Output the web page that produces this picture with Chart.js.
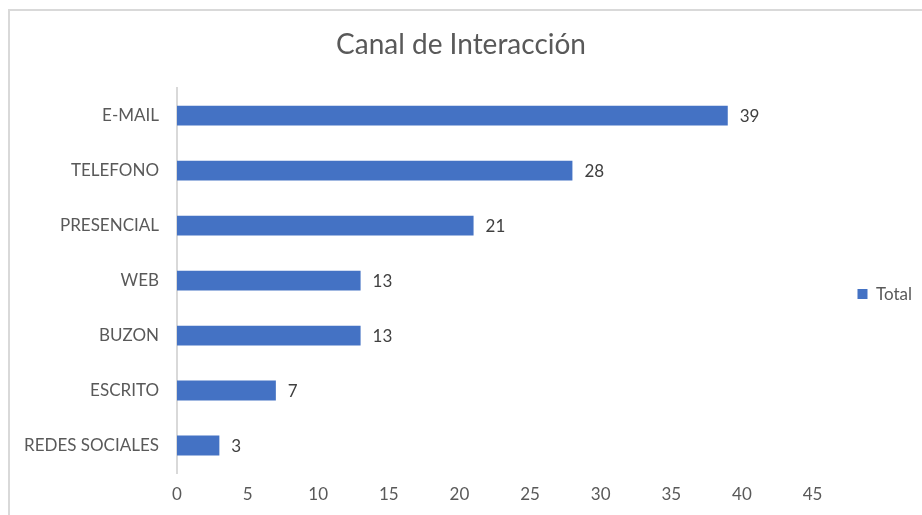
<!DOCTYPE html>
<html>
<head>
<meta charset="utf-8">
<script src="https://cdn.jsdelivr.net/npm/chart.js@4/dist/chart.umd.min.js"></script>
<style>
  html, body { margin: 0; padding: 0; background: #fff; }
  #frame { position: absolute; left: 8px; top: 9px; width: 930px; height: 520px; border: 2px solid #d9d9d9; box-sizing: border-box; }
  #wrap { position: absolute; left: 0; top: 0; width: 922px; height: 515px; }
</style>
</head>
<body>
<div id="frame"></div>
<div id="wrap"><canvas id="c" width="922" height="515"></canvas></div>
<script>
const categories = ["E-MAIL", "TELEFONO", "PRESENCIAL", "WEB", "BUZON", "ESCRITO", "REDES SOCIALES"];
const totalValues = [39, 28, 21, 13, 13, 7, 3];
const seriesName = "Total";
const chartTitle = "Canal de Interacción";
const xMin = 0, xMax = 45, xStep = 5;

const FONT = "Lato, 'Open Sans', sans-serif";
const TEXT = "#595959";

const valueLabels = {
  id: 'valueLabels',
  afterDatasetsDraw(chart) {
    const ctx = chart.ctx;
    ctx.save();
    ctx.font = "17px " + FONT;
    ctx.fillStyle = "#404040";
    ctx.textBaseline = "middle";
    ctx.textAlign = "left";
    chart.data.datasets.forEach((ds, di) => {
      chart.getDatasetMeta(di).data.forEach((bar, i) => {
        ctx.fillText(String(ds.data[i]), bar.x + 12, bar.y + 1);
      });
    });
    ctx.restore();
  }
};

new Chart(document.getElementById('c'), {
  type: 'bar',
  data: {
    labels: categories,
    datasets: [{
      label: seriesName,
      data: totalValues,
      backgroundColor: "#4472C4",
      borderWidth: 0,
      categoryPercentage: 1,
      barPercentage: 0.36
    }]
  },
  options: {
    indexAxis: 'y',
    responsive: false,
    animation: false,
    layout: { padding: { left: 0, right: 0, top: 0, bottom: 0 } },
    plugins: {
      title: {
        display: true,
        text: chartTitle,
        color: TEXT,
        font: { family: FONT, size: 28, weight: 'normal' },
        padding: { top: 28, bottom: 26.5 }
      },
      legend: {
        position: 'right',
        fullSize: false,
        title: { display: true, text: ' ', font: { size: 10 }, padding: { top: 15, bottom: 0 } },
        labels: {
          boxWidth: 10, boxHeight: 10, padding: 45,
          color: TEXT,
          font: { family: FONT, size: 17 }
        }
      },
      tooltip: { enabled: false }
    },
    scales: {
      x: {
        min: xMin, max: xMax,
        ticks: { stepSize: xStep, color: TEXT, padding: 11, font: { family: FONT, size: 17 } },
        grid: { display: false, drawTicks: false },
        border: { display: false },
        afterFit(s) { s.height = 42; }
      },
      y: {
        ticks: { color: TEXT, padding: 18, font: { family: FONT, size: 17 } },
        grid: { display: false, drawTicks: false },
        border: { display: true, color: "#d9d9d9", width: 2 },
        afterFit(s) { s.width = 177; }
      }
    }
  },
  plugins: [valueLabels]
});
</script>
</body>
</html>
